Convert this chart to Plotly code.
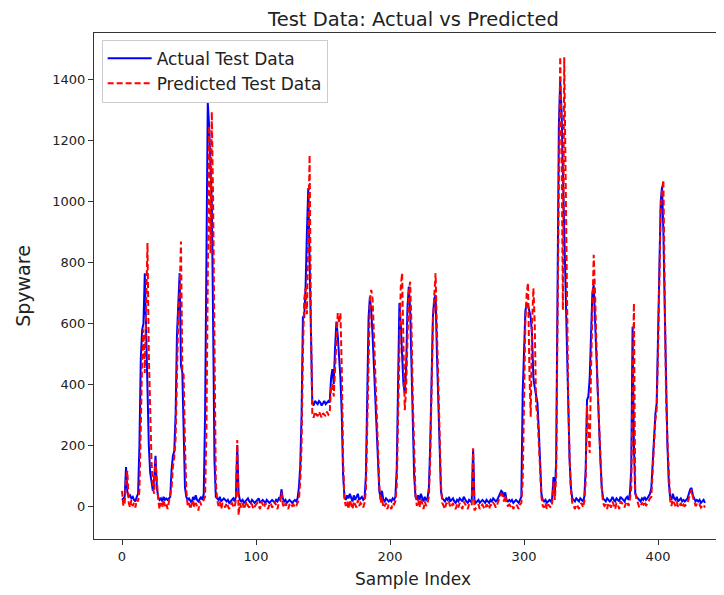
import plotly.graph_objects as go

actual = [
    20, 25, 30, 128, 45, 30, 35, 25, 30, 20,
    15, 30, 40, 200, 480, 578, 600, 765, 560, 350,
    200, 110, 70, 50, 90, 165, 60, 30, 20, 25,
    15, 30, 20, 25, 20, 25, 30, 120, 165, 180,
    300, 560, 700, 765, 460, 440, 250, 60, 30, 20,
    25, 15, 10, 30, 20, 35, 20, 15, 25, 30,
    20, 40, 300, 900, 1325, 1250, 1150, 1000, 600, 150,
    30, 25, 20, 30, 15, 20, 25, 20, 15, 20,
    10, 15, 20, 25, 15, 30, 200, 40, 20, 15,
    20, 10, 15, 20, 25, 15, 10, 20, 15, 10,
    15, 20, 25, 10, 15, 20, 15, 10, 20, 15,
    10, 15, 20, 15, 10, 20, 15, 25, 20, 55,
    25, 15, 20, 10, 15, 20, 15, 10, 15, 20,
    15, 25, 60, 130, 300, 620, 620, 720, 900, 1045,
    800, 500, 340, 330, 345, 340, 335, 345, 340, 330,
    340, 345, 335, 340, 345, 340, 420, 450, 400, 520,
    606, 560, 500, 420, 300, 100, 30, 20, 35, 25,
    40, 25, 15, 35, 20, 30, 40, 20, 25, 30,
    20, 25, 100, 400, 620, 688, 640, 560, 460, 350,
    240, 130, 50, 25, 50, 20, 15, 25, 20, 15,
    20, 15, 25, 20, 30, 120, 400, 667, 600, 480,
    400, 371, 450, 650, 721, 650, 450, 250, 100, 30,
    20, 35, 20, 40, 25, 15, 30, 20, 25, 60,
    200, 420, 620, 680, 693, 500, 330, 150, 50, 25,
    20, 15, 25, 20, 30, 15, 20, 25, 15, 10,
    20, 15, 25, 20, 15, 30, 20, 15, 10, 20,
    15, 20, 185, 20, 10, 15, 20, 10, 15, 20,
    15, 10, 20, 15, 10, 20, 15, 25, 20, 15,
    20, 30, 40, 50, 45, 30, 45, 20, 15, 20,
    15, 20, 10, 15, 20, 15, 10, 20, 30, 370,
    550, 640, 667, 660, 640, 620, 560, 420, 390, 365,
    340, 250, 120, 40, 20, 15, 20, 10, 15, 20,
    15, 25, 95, 40, 150, 700, 1250, 1394, 1300, 1100,
    900, 700, 500, 320, 150, 60, 25, 20, 15, 25,
    20, 15, 25, 20, 15, 30, 120, 348, 360, 420,
    600, 700, 726, 600, 480, 360, 250, 150, 60, 25,
    20, 15, 25, 20, 15, 20, 30, 20, 15, 25,
    20, 15, 30, 25, 20, 15, 25, 30, 20, 40,
    120, 589, 200, 40, 30, 25, 20, 15, 25, 20,
    30, 20, 25, 35, 40, 60, 150, 250, 300, 338,
    600, 850, 1000, 1049, 900, 650, 400, 200, 80, 30,
    20, 40, 25, 20, 30, 15, 20, 25, 15, 20,
    15, 20, 25, 40, 55, 59, 35, 25, 15, 20,
    15, 20, 10, 15, 20, 10,
]

predicted = [
    50, 0, 10, 90, 115, 10, -5, 20, 0, 10,
    -5, 20, 15, 50, 250, 480, 580, 437, 650, 864,
    500, 300, 150, 60, 40, 150, 80, 20, -10, 10,
    -5, 20, 0, 10, -10, 15, 30, 60, 130, 160,
    220, 450, 620, 700, 869, 447, 430, 200, 50, 0,
    10, -10, 5, 20, -5, 10, 0, -15, 15, 5,
    10, 20, 30, 250, 800, 1250, 830, 1295, 1000, 500,
    80, 20, 0, 15, -10, 10, 5, -5, 10, 0,
    -10, 5, 10, 0, -5, 20, 217, -30, 10, -5,
    10, -10, 5, 15, 0, -5, 10, 5, -10, 0,
    5, 10, 0, -10, 15, 5, -5, 10, 0, -10,
    5, 10, -5, 0, 15, 5, -10, 10, 15, 45,
    5, -5, 10, 0, -10, 5, 10, 0, 5, -5,
    0, 10, 20, 80, 200, 500, 680, 716, 630, 900,
    1153, 600, 305, 290, 310, 300, 295, 310, 300, 290,
    305, 300, 295, 310, 300, 305, 392, 400, 360, 450,
    550, 634, 600, 634, 450, 150, 20, 0, 15, -10,
    20, 0, -10, 15, 5, -5, 20, 0, 10, 5,
    -5, 10, 50, 300, 550, 680, 710, 680, 560, 430,
    300, 170, 70, 10, 30, -5, 0, 10, -10, 5,
    0, -10, 10, 5, 15, 60, 300, 600, 720, 765,
    500, 315, 380, 600, 700, 737, 600, 350, 150, 40,
    0, 20, -5, 25, 10, -10, 15, 0, 10, 30,
    150, 380, 600, 690, 765, 580, 380, 200, 70, 10,
    0, -10, 10, 5, 15, -5, 0, 10, -5, -10,
    5, -5, 10, 0, -10, 15, 5, -5, -10, 5,
    0, 5, 190, -15, -5, 0, 5, -10, 0, 5,
    -5, -10, 5, 0, -10, 5, 0, 10, 5, -5,
    5, 20, 30, 40, 35, 15, 35, 5, 0, 5,
    0, 5, -10, 0, 5, 0, -10, 5, 10, 80,
    400, 600, 700, 733, 450, 293, 600, 716, 600, 330,
    300, 220, 100, 30, 0, -5, 10, -10, 5, 0,
    -5, 10, 80, 20, 100, 600, 1200, 1476, 1200, 644,
    1474, 1100, 600, 350, 160, 50, 10, 0, -10, 5,
    0, -10, 5, 10, -5, 15, 80, 330, 250, 174,
    450, 700, 825, 700, 500, 380, 270, 160, 60, 10,
    0, 5, -10, 10, 0, -5, 15, 5, -10, 10,
    5, -10, 15, 10, 0, -5, 10, 15, 0, 20,
    60, 400, 666, 47, 20, 10, -5, 0, 10, 5,
    15, 0, 10, 20, 25, 30, 100, 200, 280, 320,
    500, 800, 980, 1040, 1071, 700, 348, 220, 90, 20,
    0, 20, 10, 0, 15, -5, 0, 10, -5, 5,
    0, 5, 10, 25, 45, 55, 30, 10, 0, 5,
    0, 5, -5, 0, 5, -5,
]

sample_index = list(range(len(actual)))
x_ticks = [0, 100, 200, 300, 400]
y_ticks = [0, 200, 400, 600, 800, 1000, 1200, 1400]

FONT = "DejaVu Sans"
TXT = "#222222"

fig = go.Figure()
fig.add_trace(go.Scatter(
    x=sample_index, y=actual, mode="lines", name="Actual Test Data",
    line=dict(color="#0000ff", width=2),
))
fig.add_trace(go.Scatter(
    x=sample_index, y=predicted, mode="lines", name="Predicted Test Data",
    line=dict(color="#ff0000", width=2, dash="6px,3px"),
))

fig.update_layout(
    width=724, height=595,
    margin=dict(l=86, r=0, t=25, b=64),
    paper_bgcolor="white", plot_bgcolor="white",
    font=dict(family=FONT, color=TXT, size=13),
    title=dict(text="Test Data: Actual vs Predicted", x=0.56, xanchor="center",
               y=0.992, yanchor="top", font=dict(size=19.5, family=FONT, color=TXT)),
    showlegend=True,
    legend=dict(x=0.012, y=0.987, xanchor="left", yanchor="top",
                bgcolor="rgba(255,255,255,0.85)", bordercolor="#cccccc", borderwidth=1,
                font=dict(size=17, family=FONT, color=TXT),
                itemwidth=44, tracegroupgap=2),
)

fig.update_xaxes(
    range=[-20.9, 455.2], tickvals=x_ticks, ticktext=[str(v) for v in x_ticks],
    showgrid=False, zeroline=False, showline=True, linecolor="#333333", linewidth=1.2,
    mirror=True, ticks="outside", ticklen=5, tickcolor="#333333",
    title=dict(text="Sample Index", font=dict(size=17, family=FONT, color=TXT), standoff=10),
    tickfont=dict(size=13, family=FONT, color=TXT),
)
fig.update_yaxes(
    range=[-108.4, 1554], tickvals=y_ticks, ticktext=[str(v) for v in y_ticks],
    showgrid=False, zeroline=False, showline=True, linecolor="#333333", linewidth=1.2,
    ticks="outside", ticklen=5, tickcolor="#333333",
    title=dict(text="Spyware", font=dict(size=19, family=FONT, color=TXT), standoff=16),
    tickfont=dict(size=13, family=FONT, color=TXT),
)

fig.write_html("out.html")
